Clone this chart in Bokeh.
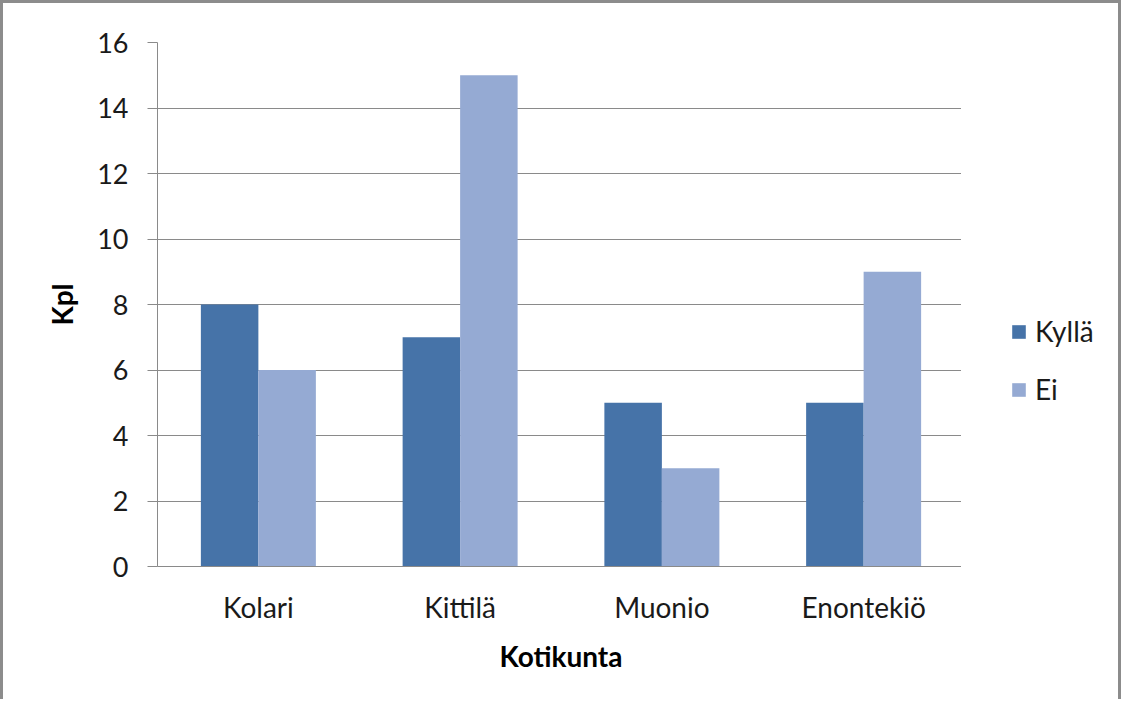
from bokeh.plotting import figure
from bokeh.models import ColumnDataSource, FactorRange, Range1d, Legend, LegendItem
from bokeh.layouts import row
from bokeh.transform import dodge
from bokeh.embed import file_html
from bokeh.resources import INLINE

categories = ["Kolari", "Kittilä", "Muonio", "Enontekiö"]
kylla = [8, 7, 5, 5]
ei = [6, 15, 3, 9]
series_names = ["Kyllä", "Ei"]
y_ticks = [0, 2, 4, 6, 8, 10, 12, 14, 16]

FONT = "Lato"
C_KYLLA = "#4673A8"
C_EI = "#95AAD3"
GRID = "#8a8a8a"
TXT = "#1a1a1a"
BORDER = "3px solid #8c8c8c"

src = ColumnDataSource(dict(cat=categories, kylla=kylla, ei=ei))

p = figure(
    x_range=FactorRange(*categories, range_padding=0),
    y_range=Range1d(0, 16),
    width=961, height=699,
    output_backend="svg", toolbar_location=None,
    min_border_left=154, min_border_top=39,
    min_border_right=0, min_border_bottom=136,
)
p.styles = {"border-top": BORDER, "border-left": BORDER, "box-sizing": "border-box"}

p.vbar(x=dodge("cat", -0.1425, range=p.x_range), top="kylla", width=0.285,
       source=src, color=C_KYLLA, line_color=None)
p.vbar(x=dodge("cat", 0.1425, range=p.x_range), top="ei", width=0.285,
       source=src, color=C_EI, line_color=None)

p.outline_line_color = None
p.background_fill_color = "white"
p.border_fill_color = "white"

p.xgrid.grid_line_color = None
p.ygrid.grid_line_color = GRID
p.ygrid.grid_line_width = 1

p.yaxis.ticker = y_ticks
p.yaxis.axis_line_color = GRID
p.yaxis.major_tick_line_color = GRID
p.yaxis.major_tick_out = 10
p.yaxis.major_tick_in = 0
p.yaxis.minor_tick_line_color = None
p.yaxis.major_label_standoff = 19
p.yaxis.major_label_text_font = FONT
p.yaxis.major_label_text_font_size = "27px"
p.yaxis.major_label_text_color = TXT
p.yaxis.axis_label = "Kpl"
p.yaxis.axis_label_text_font = FONT
p.yaxis.axis_label_text_font_style = "bold"
p.yaxis.axis_label_text_font_size = "28px"
p.yaxis.axis_label_text_color = "#000000"
p.yaxis.axis_label_standoff = 15

p.xaxis.axis_line_color = GRID
p.xaxis.major_tick_line_color = None
p.xaxis.major_tick_out = 0
p.xaxis.major_tick_in = 0
p.xaxis.minor_tick_line_color = None
p.xaxis.major_label_standoff = 23
p.xaxis.major_label_text_font = FONT
p.xaxis.major_label_text_font_size = "28px"
p.xaxis.major_label_text_color = TXT
p.xaxis.axis_label = "Kotikunta"
p.xaxis.axis_label_text_font = FONT
p.xaxis.axis_label_text_font_style = "bold"
p.xaxis.axis_label_text_font_size = "28px"
p.xaxis.axis_label_text_color = "#000000"
p.xaxis.axis_label_standoff = 12

# legend panel (separate figure so the legend is not clipped by the plot frame)
pl = figure(width=160, height=699, output_backend="svg", toolbar_location=None,
            x_range=Range1d(0, 1), y_range=Range1d(0, 1), min_border=0)
pl.styles = {"border-top": BORDER, "border-right": BORDER, "box-sizing": "border-box"}
pl.axis.visible = False
pl.grid.grid_line_color = None
pl.outline_line_color = None
pl.background_fill_color = "white"
pl.border_fill_color = "white"
# zero-size proxy glyphs that only supply the legend swatches
l1 = pl.vbar(x=[0], top=[0], width=0, color=C_KYLLA, line_color=None)
l2 = pl.vbar(x=[0], top=[0], width=0, color=C_EI, line_color=None)

legend = Legend(
    items=[LegendItem(label=series_names[0], renderers=[l1]),
           LegendItem(label=series_names[1], renderers=[l2])],
    location=(49, 160),
    margin=0, padding=0, spacing=24,
    glyph_width=17, glyph_height=17, label_standoff=8,
    label_text_font=FONT, label_text_font_size="28px", label_text_color=TXT,
    border_line_color=None, background_fill_alpha=0,
)
pl.add_layout(legend, "center")

layout = row(p, pl, spacing=0)
open("out.html", "w").write(file_html(layout, INLINE))
